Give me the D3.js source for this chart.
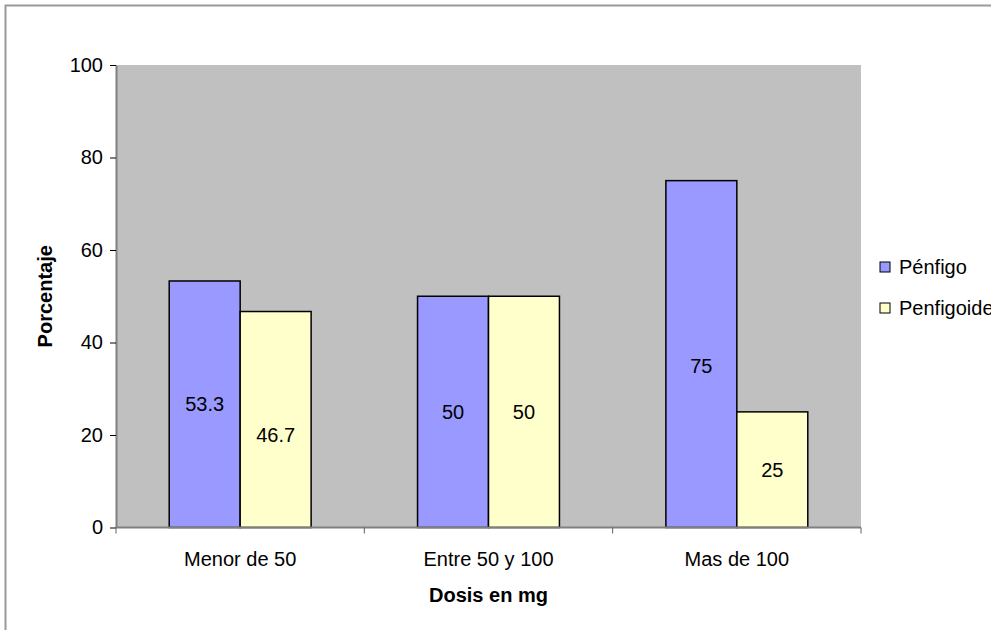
<!DOCTYPE html>
<html>
<head>
<meta charset="utf-8">
<script src="https://cdn.jsdelivr.net/npm/d3@7"></script>
<style>
  html, body { margin: 0; padding: 0; background: #fff; }
  svg { display: block; font-family: "Liberation Sans", Arial, sans-serif; }
</style>
</head>
<body>
<svg id="chart" width="991" height="630"></svg>
<script>
// Dose categories and percentages per disease
const categories = ["Menor de 50", "Entre 50 y 100", "Mas de 100"];
const seriesNames = ["Pénfigo", "Penfigoide"];
const penfigo = [53.3, 50, 75];
const penfigoide = [46.7, 50, 25];
const yTicks = [0, 20, 40, 60, 80, 100];
const seriesColors = ["#9999FF", "#FFFFCC"];

// Hand-placed data labels: vertical nudge (px) from the bar middle
const labelNudge = {
  "Pénfigo": [0, 0, 12],
  "Penfigoide": [15, 0, 0]
};

const svg = d3.select("#chart");
const plot = { left: 116, right: 861, top: 65, bottom: 527.5 };

// Outer chart frame (extends past the right and bottom edges)
svg.append("rect")
  .attr("x", 5.5).attr("y", 5.5)
  .attr("width", 1000).attr("height", 640)
  .attr("fill", "#fff")
  .attr("stroke", "#9a9a9a").attr("stroke-width", 2);

const x0 = d3.scaleBand().domain(categories).range([plot.left, plot.right]);
const x1 = d3.scaleBand().domain(seriesNames)
  .range([0, x0.bandwidth()]).paddingInner(0).paddingOuter(0.75);
const y = d3.scaleLinear().domain([0, 100]).range([plot.bottom, plot.top]);
const color = d3.scaleOrdinal().domain(seriesNames).range(seriesColors);

// Plot background
svg.append("rect")
  .attr("x", plot.left).attr("y", plot.top)
  .attr("width", plot.right - plot.left).attr("height", plot.bottom - plot.top)
  .attr("fill", "#C0C0C0");

const rows = categories.map((c, i) => ({
  cat: c,
  values: [
    { name: seriesNames[0], value: penfigo[i], i },
    { name: seriesNames[1], value: penfigoide[i], i }
  ]
}));

const groups = svg.append("g").selectAll("g")
  .data(rows).join("g")
  .attr("transform", d => `translate(${x0(d.cat)},0)`);

groups.selectAll("rect")
  .data(d => d.values).join("rect")
  .attr("x", d => x1(d.name))
  .attr("y", d => y(d.value))
  .attr("width", x1.bandwidth())
  .attr("height", d => y(0) - y(d.value))
  .attr("fill", d => color(d.name))
  .attr("stroke", "#000").attr("stroke-width", 1.5);

groups.selectAll("text")
  .data(d => d.values).join("text")
  .attr("x", d => x1(d.name) + x1.bandwidth() / 2)
  .attr("y", d => (y(d.value) + y(0)) / 2 + labelNudge[d.name][d.i])
  .attr("text-anchor", "middle")
  .attr("dominant-baseline", "central")
  .attr("font-size", 20)
  .attr("fill", "#000")
  .text(d => d.value);

// Y axis
const yAxis = svg.append("g")
  .attr("transform", `translate(${plot.left},0)`)
  .call(d3.axisLeft(y).tickValues(yTicks).tickSize(6).tickPadding(7).tickSizeOuter(0));
yAxis.select(".domain").attr("stroke", "#808080").attr("stroke-width", 2);
yAxis.selectAll(".tick line").attr("stroke", "#000");
yAxis.selectAll(".tick text").attr("font-size", 20).attr("fill", "#000")
  .attr("font-family", "Liberation Sans, Arial, sans-serif");

// X axis: line along the base with ticks at category boundaries
const xAxis = svg.append("g");
xAxis.append("line")
  .attr("x1", plot.left).attr("x2", plot.right)
  .attr("y1", plot.bottom).attr("y2", plot.bottom)
  .attr("stroke", "#808080").attr("stroke-width", 2);
const boundaries = categories.map(c => x0(c)).concat([x0(categories[categories.length - 1]) + x0.bandwidth()]);
xAxis.selectAll("line.tk").data(boundaries).join("line")
  .attr("class", "tk")
  .attr("x1", d => d).attr("x2", d => d)
  .attr("y1", plot.bottom).attr("y2", plot.bottom + 6)
  .attr("stroke", "#606060").attr("stroke-width", 1);
xAxis.selectAll("text").data(categories).join("text")
  .attr("x", d => x0(d) + x0.bandwidth() / 2)
  .attr("y", 566)
  .attr("text-anchor", "middle")
  .attr("font-size", 20)
  .text(d => d);

// Axis titles
svg.append("text")
  .attr("x", (plot.left + plot.right) / 2).attr("y", 602)
  .attr("text-anchor", "middle")
  .attr("font-size", 20).attr("font-weight", "bold")
  .text("Dosis en mg");
svg.append("text")
  .attr("transform", `translate(52,${(plot.top + plot.bottom) / 2}) rotate(-90)`)
  .attr("text-anchor", "middle")
  .attr("font-size", 20).attr("font-weight", "bold")
  .text("Porcentaje");

// Legend (its right part runs past the chart edge)
const legend = svg.append("g").selectAll("g")
  .data(seriesNames).join("g")
  .attr("transform", (d, i) => `translate(880,${262 + i * 41})`);
legend.append("rect")
  .attr("width", 10).attr("height", 10)
  .attr("fill", d => color(d))
  .attr("stroke", "#000").attr("stroke-width", 1);
legend.append("text")
  .attr("x", 19).attr("y", 5)
  .attr("dominant-baseline", "central")
  .attr("font-size", 20)
  .text(d => d);
</script>
</body>
</html>
